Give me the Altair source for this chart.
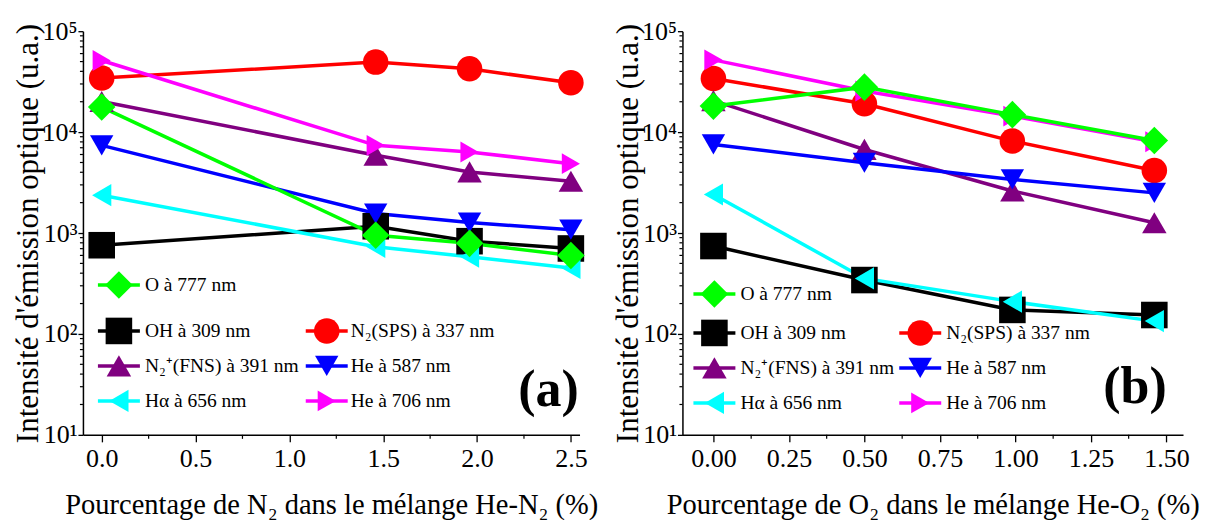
import altair as alt
import pandas as pd

FONT = "Liberation Serif"

series = ["O à 777 nm", "OH à 309 nm", "N₂(SPS) à 337 nm", "N₂⁺(FNS) à 391 nm",
          "He à 587 nm", "Hα à 656 nm", "He à 706 nm"]
colors = ["#00ff00", "#000000", "#ff0000", "#800080", "#0000ff", "#00ffff", "#ff00ff"]
shapes = ["diamond", "square", "circle", "triangle-up", "triangle-down",
          "triangle-left", "triangle-right"]
sizes = [760, 440, 600, 720, 720, 720, 720]
# legend grid slot (row, column) of each series
leg_row = [0, 1, 1, 2, 2, 3, 3]
leg_col = [0, 0, 1, 0, 1, 0, 1]
# drawing order (last on top)
draw_order = ["OH à 309 nm", "N₂(SPS) à 337 nm", "N₂⁺(FNS) à 391 nm", "He à 587 nm",
              "Hα à 656 nm", "He à 706 nm", "O à 777 nm"]

# ---- panel (a): He-N2 ----
x_n2 = [0.0, 1.46, 1.96, 2.5]
n2_O = [17700, 950, 790, 600]
n2_OH = [757, 1167, 830, 703]
n2_SPS = [34300, 49400, 42400, 30800]
n2_FNS = [20100, 5900, 4030, 3260]
n2_He587 = [7390, 1560, 1270, 1080]
n2_Ha = [2370, 730, 582, 450]
n2_He706 = [51200, 7390, 6360, 4870]

# ---- panel (b): He-O2 ----
x_o2 = [0.0, 0.5, 0.99, 1.46]
o2_O = [18100, 27900, 14900, 8260]
o2_OH = [743, 342, 173, 154]
o2_SPS = [34000, 19100, 8150, 4170]
o2_FNS = [20500, 6730, 2610, 1265]
o2_He587 = [7540, 4970, 3400, 2500]
o2_Ha = [2410, 355, 209, 134]
o2_He706 = [52000, 25500, 14400, 8020]

y_major = [10, 100, 1000, 10000, 100000]
y_minor = [m * 10 ** k for k in range(1, 5) for m in range(2, 10)]

color_scale = alt.Scale(domain=series, range=colors)
shape_scale = alt.Scale(domain=series, range=shapes)
size_scale = alt.Scale(domain=series, range=sizes)


def panel(xvals, ylists, xdomain, xmajor, xminor, fmt, xtitle, leg, tag, tagpos, w, h):
    rows = []
    for s in draw_order:
        vals = ylists[series.index(s)]
        for xv, yv in zip(xvals, vals):
            rows.append({"s": s, "x": xv, "y": yv, "o": draw_order.index(s)})
    df = pd.DataFrame(rows)

    xs = alt.Scale(domain=xdomain, nice=False, zero=False)
    ys = alt.Scale(type="log", domain=[10, 100000], nice=False)

    x_enc = alt.X("x:Q", scale=xs, axis=alt.Axis(
        values=xmajor, format=fmt, title=xtitle, tickSize=7, labelPadding=4,
        titlePadding=19, labelFontSize=26, titleFontSize=28.5, orient="bottom"))
    y_enc = alt.Y("y:Q", scale=ys, axis=alt.Axis(
        values=y_major, tickSize=5, labelPadding=1, titlePadding=-3,
        labelFontSize=26, titleFontSize=31, orient="left",
        labelExpr="'10' + ['⁰','¹','²','³','⁴','⁵'][round(log(datum.value)/LN10)]",
        title="Intensité d'émission optique (u.a.)"))

    base = alt.Chart(df)
    lines = base.mark_line(strokeWidth=3.5).encode(
        x=x_enc, y=y_enc,
        color=alt.Color("s:N", scale=color_scale, legend=None),
        detail="s:N", order="o:Q")
    pts = base.mark_point(filled=True, opacity=1).encode(
        x=alt.X("x:Q", scale=xs, axis=None), y=alt.Y("y:Q", scale=ys, axis=None),
        color=alt.Color("s:N", scale=color_scale, legend=None),
        shape=alt.Shape("s:N", scale=shape_scale, legend=None),
        size=alt.Size("s:N", scale=size_scale, legend=None),
        order="o:Q")

    # minor ticks, placed through the axis scales
    yminor = alt.Chart(pd.DataFrame({"v": y_minor})).mark_rule(
        color="black", strokeWidth=1.2).encode(
        y=alt.Y("v:Q", scale=ys, axis=None), x=alt.value(0), x2=alt.value(-3))
    xminor_c = alt.Chart(pd.DataFrame({"v": xminor})).mark_rule(
        color="black", strokeWidth=1.2).encode(
        x=alt.X("v:Q", scale=xs, axis=None), y=alt.value(h), y2=alt.value(h + 4))

    # legend drawn inside plot from the series list
    lrows = []
    for i, s in enumerate(series):
        r, c = leg_row[i], leg_col[i]
        lrows.append({"s": s, "ly": leg["rows"][r],
                      "lm": leg["mark"][c], "l1": leg["mark"][c] - 21,
                      "l2": leg["mark"][c] + 21, "lt": leg["text"][c]})
    ldf = pd.DataFrame(lrows)
    lbase = alt.Chart(ldf)
    lline = lbase.mark_rule(strokeWidth=3.5).encode(
        x=alt.X("l1:Q", scale=None, axis=None), x2="l2:Q",
        y=alt.Y("ly:Q", scale=None, axis=None),
        color=alt.Color("s:N", scale=color_scale, legend=None))
    lpt = lbase.mark_point(filled=True, opacity=1).encode(
        x=alt.X("lm:Q", scale=None, axis=None),
        y=alt.Y("ly:Q", scale=None, axis=None),
        color=alt.Color("s:N", scale=color_scale, legend=None),
        shape=alt.Shape("s:N", scale=shape_scale, legend=None),
        size=alt.Size("s:N", scale=size_scale, legend=None))
    ltxt = lbase.mark_text(align="left", baseline="middle", font=FONT,
                           fontSize=19.5, color="black").encode(
        x=alt.X("lt:Q", scale=None, axis=None),
        y=alt.Y("ly:Q", scale=None, axis=None),
        text="s:N")
    tagc = alt.Chart(pd.DataFrame({"t": [tag]})).mark_text(
        align="center", baseline="alphabetic", font=FONT, fontSize=52,
        fontWeight="bold", color="black").encode(
        text="t:N", x=alt.value(tagpos[0]), y=alt.value(tagpos[1]))

    return alt.layer(lines, pts, yminor, xminor_c, lline, lpt, ltxt, tagc).resolve_axis(
        x="independent", y="independent").properties(width=w, height=h)


left = panel(x_n2, [n2_O, n2_OH, n2_SPS, n2_FNS, n2_He587, n2_Ha, n2_He706],
             [-0.1, 2.546], [0.0, 0.5, 1.0, 1.5, 2.0, 2.5],
             [0.25, 0.75, 1.25, 1.75, 2.25], ".1f",
             "Pourcentage de N₂ dans le mélange He-N₂ (%)",
             {"rows": [254, 300, 335, 370], "mark": [36, 244], "text": [62, 268]},
             "(a)", (466, 375), 497, 404)

right = panel(x_o2, [o2_O, o2_OH, o2_SPS, o2_FNS, o2_He587, o2_Ha, o2_He706],
              [-0.1026, 1.555], [0.0, 0.25, 0.5, 0.75, 1.0, 1.25, 1.5],
              [0.125, 0.375, 0.625, 0.875, 1.125, 1.375], ".2f",
              "Pourcentage de O₂ dans le mélange He-O₂ (%)",
              {"rows": [263, 302, 337, 372], "mark": [32, 238], "text": [58, 264]},
              "(b)", (453, 372), 501, 404)

chart = alt.hconcat(left, right, spacing=13).properties(
    padding={"left": 4, "top": 10, "right": 0, "bottom": 0}
).configure_axis(
    labelFont=FONT, titleFont=FONT, labelColor="black", titleColor="black",
    titleFontWeight="normal", domainColor="black", tickColor="black",
    domainWidth=1.5, tickWidth=1.3, grid=False
).configure_view(stroke=None)

chart.save("out.html", embed_options={"renderer": "svg", "actions": False})
